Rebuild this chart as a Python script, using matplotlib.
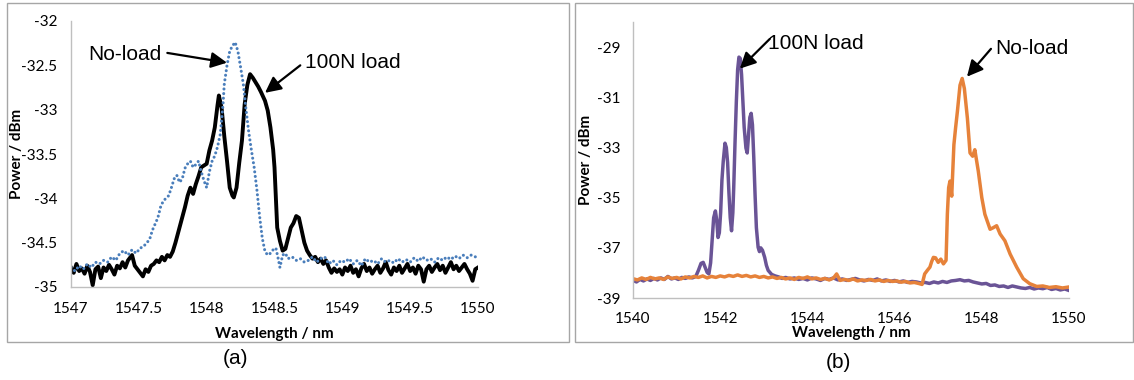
import matplotlib
matplotlib.use('Agg')
import matplotlib.pyplot as plt
from matplotlib.patches import Rectangle

# ---- panel (a): 1547-1550 nm ----
a_load_x = [1547.00, 1547.02, 1547.04, 1547.06, 1547.08, 1547.10, 1547.12, 1547.14, 1547.16, 1547.18,
            1547.20, 1547.22, 1547.24, 1547.26, 1547.28, 1547.30, 1547.32, 1547.34, 1547.36, 1547.38,
            1547.40, 1547.42, 1547.45, 1547.47, 1547.49, 1547.51, 1547.53, 1547.55, 1547.57, 1547.59,
            1547.61, 1547.63, 1547.65, 1547.67, 1547.69, 1547.71, 1547.73, 1547.75, 1547.77, 1547.80,
            1547.82, 1547.84, 1547.86, 1547.88, 1547.90, 1547.92, 1547.94, 1547.96, 1547.98, 1548.00,
            1548.02, 1548.04, 1548.06, 1548.08, 1548.09, 1548.11, 1548.13, 1548.15, 1548.17, 1548.19,
            1548.20, 1548.22, 1548.24, 1548.26, 1548.28, 1548.30, 1548.32, 1548.34, 1548.36, 1548.38,
            1548.40, 1548.43, 1548.45, 1548.47, 1548.49, 1548.50, 1548.51, 1548.52, 1548.54, 1548.56,
            1548.58, 1548.60, 1548.62, 1548.64, 1548.66, 1548.68, 1548.70, 1548.72, 1548.74, 1548.76,
            1548.78, 1548.80, 1548.82, 1548.84, 1548.86, 1548.88, 1548.90, 1548.92, 1548.94, 1548.96,
            1548.98, 1549.00, 1549.02, 1549.04, 1549.06, 1549.08, 1549.10, 1549.12, 1549.14, 1549.16,
            1549.18, 1549.20, 1549.22, 1549.24, 1549.26, 1549.28, 1549.30, 1549.32, 1549.34, 1549.36,
            1549.38, 1549.40, 1549.42, 1549.44, 1549.46, 1549.48, 1549.50, 1549.52, 1549.54, 1549.56,
            1549.58, 1549.60, 1549.62, 1549.64, 1549.66, 1549.68, 1549.70, 1549.72, 1549.74, 1549.76,
            1549.78, 1549.80, 1549.82, 1549.84, 1549.86, 1549.88, 1549.90, 1549.92, 1549.94, 1549.96,
            1549.98, 1550.00]
a_load_y = [-34.78, -34.84, -34.74, -34.82, -34.79, -34.85, -34.76, -34.83, -34.98, -34.80,
            -34.77, -34.90, -34.78, -34.82, -34.75, -34.80, -34.86, -34.76, -34.79, -34.72,
            -34.78, -34.70, -34.64, -34.76, -34.80, -34.84, -34.88, -34.80, -34.83, -34.76,
            -34.74, -34.70, -34.72, -34.66, -34.70, -34.64, -34.66, -34.60, -34.50, -34.33,
            -34.22, -34.10, -33.97, -33.88, -33.95, -33.84, -33.75, -33.65, -33.63, -33.61,
            -33.46, -33.35, -33.20, -32.95, -32.84, -32.98, -33.30, -33.58, -33.88, -33.97,
            -33.99, -33.88, -33.60, -33.35, -32.94, -32.72, -32.60, -32.64, -32.69, -32.74,
            -32.80, -32.90, -33.01, -33.20, -33.45, -33.65, -34.00, -34.33, -34.48, -34.59,
            -34.57, -34.45, -34.33, -34.28, -34.20, -34.22, -34.36, -34.50, -34.59, -34.64,
            -34.68, -34.66, -34.72, -34.68, -34.74, -34.70, -34.78, -34.84, -34.79, -34.83,
            -34.80, -34.86, -34.78, -34.82, -34.76, -34.84, -34.80, -34.88, -34.79, -34.74,
            -34.82, -34.78, -34.85, -34.80, -34.76, -34.84, -34.79, -34.72, -34.81, -34.86,
            -34.78, -34.82, -34.76, -34.84, -34.79, -34.74, -34.82, -34.78, -34.85, -34.76,
            -34.80, -34.94, -34.80, -34.76, -34.83, -34.78, -34.74, -34.81, -34.76, -34.84,
            -34.78, -34.72, -34.80, -34.76, -34.82, -34.78, -34.74, -34.80, -34.85, -34.93,
            -34.80, -34.78]

a_free_x = [1547.00, 1547.03, 1547.06, 1547.09, 1547.12, 1547.15, 1547.18, 1547.21, 1547.24, 1547.27,
            1547.30, 1547.33, 1547.36, 1547.39, 1547.42, 1547.45, 1547.48, 1547.51, 1547.53, 1547.56,
            1547.58, 1547.60, 1547.62, 1547.64, 1547.66, 1547.68, 1547.70, 1547.72, 1547.74, 1547.76,
            1547.78, 1547.80, 1547.82, 1547.84, 1547.86, 1547.88, 1547.90, 1547.92, 1547.94, 1547.96,
            1547.98, 1548.00, 1548.02, 1548.04, 1548.06, 1548.08, 1548.10, 1548.12, 1548.13, 1548.15,
            1548.17, 1548.19, 1548.21, 1548.23, 1548.25, 1548.27, 1548.29, 1548.31, 1548.33, 1548.35,
            1548.37, 1548.39, 1548.41, 1548.43, 1548.45, 1548.47, 1548.49, 1548.51, 1548.53, 1548.54,
            1548.56, 1548.58, 1548.60, 1548.63, 1548.66, 1548.69, 1548.72, 1548.75, 1548.78, 1548.81,
            1548.84, 1548.87, 1548.90, 1548.93, 1548.96, 1548.99, 1549.02, 1549.05, 1549.08, 1549.11,
            1549.14, 1549.17, 1549.20, 1549.23, 1549.26, 1549.29, 1549.32, 1549.35, 1549.38, 1549.41,
            1549.44, 1549.47, 1549.50, 1549.53, 1549.56, 1549.59, 1549.62, 1549.65, 1549.68, 1549.71,
            1549.74, 1549.77, 1549.80, 1549.83, 1549.86, 1549.89, 1549.92, 1549.95, 1549.98, 1550.00]
a_free_y = [-34.78, -34.82, -34.76, -34.80, -34.74, -34.78, -34.72, -34.74, -34.70, -34.72,
            -34.66, -34.70, -34.62, -34.59, -34.64, -34.58, -34.62, -34.56, -34.55, -34.50,
            -34.46, -34.36, -34.29, -34.22, -34.10, -34.03, -34.00, -33.97, -33.88, -33.78,
            -33.74, -33.82, -33.78, -33.66, -33.61, -33.58, -33.65, -33.62, -33.58, -33.70,
            -33.80, -33.88, -33.70, -33.58, -33.52, -33.42, -33.28, -32.95, -32.71, -32.50,
            -32.34, -32.28, -32.24, -32.34, -32.52, -32.71, -33.00, -33.25, -33.46, -33.65,
            -33.90, -34.20, -34.45, -34.60, -34.64, -34.62, -34.58, -34.56, -34.70, -34.78,
            -34.64, -34.62, -34.68, -34.66, -34.70, -34.68, -34.72, -34.70, -34.66, -34.72,
            -34.68, -34.66, -34.74, -34.70, -34.75, -34.70, -34.72, -34.68, -34.74, -34.70,
            -34.76, -34.68, -34.72, -34.70, -34.74, -34.68, -34.72, -34.70, -34.73, -34.68,
            -34.72, -34.69, -34.72, -34.67, -34.71, -34.66, -34.70, -34.68, -34.72, -34.67,
            -34.70, -34.66, -34.69, -34.65, -34.68, -34.64, -34.67, -34.64, -34.66, -34.63]

a_xticks = [1547, 1547.5, 1548, 1548.5, 1549, 1549.5, 1550]
a_xlabels = ['1547', '1547.5', '1548', '1548.5', '1549', '1549.5', '1550']
a_yticks = [-35, -34.5, -34, -33.5, -33, -32.5, -32]
a_ylabels = ['-35', '-34.5', '-34', '-33.5', '-33', '-32.5', '-32']

# ---- panel (b): 1540-1550 nm ----
b_load_x = [1540.00, 1540.08, 1540.16, 1540.24, 1540.32, 1540.40, 1540.48, 1540.56, 1540.64, 1540.72,
            1540.80, 1540.88, 1540.96, 1541.04, 1541.12, 1541.20, 1541.28, 1541.36, 1541.44, 1541.50,
            1541.56, 1541.61, 1541.66, 1541.70, 1541.74, 1541.78, 1541.81, 1541.85, 1541.89, 1541.92,
            1541.95, 1541.98, 1542.01, 1542.04, 1542.07, 1542.11, 1542.14, 1542.17, 1542.20, 1542.23,
            1542.26, 1542.29, 1542.31, 1542.34, 1542.37, 1542.40, 1542.43, 1542.46, 1542.49, 1542.52,
            1542.55, 1542.59, 1542.62, 1542.65, 1542.68, 1542.71, 1542.74, 1542.77, 1542.80, 1542.83,
            1542.87, 1542.90, 1542.93, 1542.97, 1543.02, 1543.06, 1543.10, 1543.18, 1543.26, 1543.34,
            1543.42, 1543.50, 1543.60, 1543.70, 1543.80, 1543.90, 1544.00, 1544.10, 1544.20, 1544.30,
            1544.40, 1544.50, 1544.60, 1544.70, 1544.80, 1544.90, 1545.00, 1545.10, 1545.20, 1545.30,
            1545.40, 1545.50, 1545.60, 1545.70, 1545.80, 1545.90, 1546.00, 1546.10, 1546.20, 1546.30,
            1546.40, 1546.50, 1546.60, 1546.70, 1546.80, 1546.90, 1547.00, 1547.10, 1547.20, 1547.30,
            1547.40, 1547.50, 1547.60, 1547.70, 1547.80, 1547.90, 1548.00, 1548.10, 1548.20, 1548.30,
            1548.40, 1548.50, 1548.60, 1548.70, 1548.80, 1548.90, 1549.00, 1549.10, 1549.20, 1549.30,
            1549.40, 1549.50, 1549.60, 1549.70, 1549.80, 1549.90, 1550.00]
b_load_y = [-38.30, -38.36, -38.26, -38.32, -38.24, -38.30, -38.22, -38.28, -38.20, -38.26,
            -38.14, -38.24, -38.20, -38.26, -38.18, -38.22, -38.16, -38.20, -38.14, -37.90,
            -37.62, -37.58, -37.80, -37.98, -38.04, -37.60, -36.80, -35.80, -35.53, -35.90,
            -36.59, -36.40, -35.60, -34.30, -33.55, -32.83, -33.00, -33.60, -34.80, -35.80,
            -36.32, -35.60, -34.60, -32.80, -31.18, -29.90, -29.40, -29.45, -30.10, -31.18,
            -32.20, -33.02, -33.22, -32.50, -31.80, -31.64, -32.10, -33.40, -34.90, -36.20,
            -36.98, -37.15, -37.00, -37.10, -37.38, -37.70, -37.90, -38.06, -38.12, -38.16,
            -38.22, -38.18, -38.24, -38.20, -38.26, -38.22, -38.28, -38.20, -38.24, -38.30,
            -38.22, -38.26, -38.20, -38.28, -38.24, -38.30, -38.26, -38.22, -38.28, -38.32,
            -38.26, -38.30, -38.24, -38.32, -38.28, -38.34, -38.30, -38.36, -38.32, -38.38,
            -38.34, -38.36, -38.40, -38.38, -38.42, -38.36, -38.40, -38.34, -38.38, -38.32,
            -38.30, -38.27, -38.32, -38.30, -38.36, -38.40, -38.44, -38.42, -38.50, -38.48,
            -38.54, -38.52, -38.58, -38.52, -38.56, -38.60, -38.62, -38.58, -38.64, -38.60,
            -38.63, -38.58, -38.66, -38.62, -38.68, -38.64, -38.70]

b_free_x = [1540.00, 1540.10, 1540.20, 1540.30, 1540.40, 1540.50, 1540.60, 1540.70, 1540.80, 1540.90,
            1541.00, 1541.10, 1541.20, 1541.30, 1541.40, 1541.50, 1541.60, 1541.70, 1541.80, 1541.90,
            1542.00, 1542.10, 1542.20, 1542.30, 1542.40, 1542.50, 1542.60, 1542.70, 1542.80, 1542.90,
            1543.00, 1543.10, 1543.20, 1543.30, 1543.40, 1543.50, 1543.60, 1543.70, 1543.80, 1543.90,
            1544.00, 1544.10, 1544.20, 1544.30, 1544.40, 1544.50, 1544.60, 1544.67, 1544.75, 1544.85,
            1544.95, 1545.05, 1545.15, 1545.25, 1545.35, 1545.45, 1545.55, 1545.65, 1545.75, 1545.85,
            1545.95, 1546.05, 1546.15, 1546.25, 1546.35, 1546.45, 1546.55, 1546.63, 1546.69, 1546.75,
            1546.81, 1546.85, 1546.89, 1546.94, 1547.00, 1547.06, 1547.12, 1547.18, 1547.21, 1547.24,
            1547.27, 1547.31, 1547.36, 1547.40, 1547.44, 1547.50, 1547.55, 1547.60, 1547.67, 1547.73,
            1547.79, 1547.84, 1547.92, 1548.00, 1548.07, 1548.19, 1548.26, 1548.34, 1548.42, 1548.53,
            1548.65, 1548.80, 1548.95, 1549.10, 1549.26, 1549.40, 1549.55, 1549.70, 1549.85, 1550.00]
b_free_y = [-38.23, -38.28, -38.20, -38.26, -38.18, -38.24, -38.20, -38.26, -38.16, -38.22,
            -38.18, -38.24, -38.16, -38.20, -38.14, -38.18, -38.12, -38.20, -38.14, -38.18,
            -38.12, -38.16, -38.10, -38.14, -38.08, -38.14, -38.10, -38.16, -38.12, -38.18,
            -38.14, -38.20, -38.16, -38.22, -38.18, -38.24, -38.20, -38.26, -38.18, -38.22,
            -38.16, -38.24, -38.20, -38.26, -38.22, -38.28, -38.20, -38.04, -38.30, -38.26,
            -38.30, -38.24, -38.32, -38.28, -38.30, -38.26, -38.32, -38.28, -38.34, -38.30,
            -38.34, -38.32, -38.37, -38.34, -38.40, -38.38, -38.42, -38.46, -38.04, -37.90,
            -37.77, -37.55, -37.38, -37.40, -37.58, -37.45, -37.64, -37.50, -35.66, -34.60,
            -34.34, -34.94, -32.89, -32.20, -31.57, -30.52, -30.25, -30.65, -31.84, -33.22,
            -33.35, -33.09, -33.95, -35.00, -35.66, -36.26, -36.20, -36.12, -36.45, -36.72,
            -37.25, -37.77, -38.23, -38.43, -38.54, -38.52, -38.58, -38.55, -38.60, -38.56]

b_xticks = [1540, 1542, 1544, 1546, 1548, 1550]
b_xlabels = ['1540', '1542', '1544', '1546', '1548', '1550']
b_yticks = [-39, -37, -35, -33, -31, -29]
b_ylabels = ['-39', '-37', '-35', '-33', '-31', '-29']

BLUE = '#4a7ebb'
PURPLE = '#6a5496'
ORANGE = '#e6823a'
TICK_FONT = 'Lato'
NOTE_FONT = 'Liberation Sans'

fig = plt.figure(figsize=(11.34, 3.8), dpi=100)

# panel frames
for x0, w in [(7, 562), (575, 558)]:
    fig.patches.append(Rectangle((x0 / 1134, 1 - 342 / 380), w / 1134, 339 / 380,
                                 transform=fig.transFigure, fill=False,
                                 edgecolor='#a6a6a6', linewidth=1.0))

ax1 = fig.add_axes([71 / 1134, 93 / 380, 407 / 1134, 266 / 380])
ax2 = fig.add_axes([633 / 1134, 82 / 380, 436 / 1134, 276 / 380])

ax1.plot(a_load_x, a_load_y, color='black', linewidth=2.8, solid_joinstyle='round')
ax1.plot(a_free_x, a_free_y, color=BLUE, linewidth=2.2, linestyle=(0, (0.01, 1.5)),
         dash_capstyle='round')
ax1.set_xlim(1547, 1550)
ax1.set_ylim(-35, -32)
ax1.set_xticks(a_xticks, a_xlabels)
ax1.set_yticks(a_yticks, a_ylabels)

ax2.plot(b_load_x, b_load_y, color=PURPLE, linewidth=2.5, solid_joinstyle='round')
ax2.plot(b_free_x, b_free_y, color=ORANGE, linewidth=2.5, solid_joinstyle='round')
ax2.set_xlim(1540, 1550)
ax2.set_ylim(-39, -28)
ax2.set_xticks(b_xticks, b_xlabels)
ax2.set_yticks(b_yticks, b_ylabels)

for ax in (ax1, ax2):
    for s in ['top', 'right']:
        ax.spines[s].set_visible(False)
    for s in ['left', 'bottom']:
        ax.spines[s].set_color('#bfbfbf')
        ax.spines[s].set_linewidth(1.0)
    ax.tick_params(length=0, labelsize=11)
    for lab in ax.get_xticklabels() + ax.get_yticklabels():
        lab.set_family(TICK_FONT)
    ax.set_xlabel('Wavelength / nm', family=TICK_FONT, weight='bold', fontsize=11)
    ax.set_ylabel('Power / dBm', family=TICK_FONT, weight='bold', fontsize=11)

ax1.tick_params(axis='x', pad=11)
ax1.tick_params(axis='y', pad=10)
ax2.tick_params(axis='x', pad=10)
ax2.tick_params(axis='y', pad=9)

ax1.xaxis.set_label_coords(0.5, -0.152)
ax1.yaxis.set_label_coords(-0.115, 0.5)
ax2.xaxis.set_label_coords(0.5, -0.102)
ax2.yaxis.set_label_coords(-0.092, 0.5)

arrow = dict(arrowstyle='-|>', color='black', lw=1.6, mutation_scale=24, shrinkA=0, shrinkB=0)

ax1.text(1547.40, -32.38, 'No-load', family=NOTE_FONT, fontsize=15, ha='center', va='center')
ax1.annotate('', xy=(1548.15, -32.47), xytext=(1547.71, -32.36), arrowprops=arrow)
ax1.text(1549.08, -32.47, '100N load', family=NOTE_FONT, fontsize=15, ha='center', va='center')
ax1.annotate('', xy=(1548.43, -32.81), xytext=(1548.69, -32.50), arrowprops=arrow)

ax2.text(1544.20, -28.87, '100N load', family=NOTE_FONT, fontsize=15, ha='center', va='center')
ax2.annotate('', xy=(1542.45, -29.86), xytext=(1543.14, -28.67), arrowprops=arrow)
ax2.text(1549.15, -29.07, 'No-load', family=NOTE_FONT, fontsize=15, ha='center', va='center')
ax2.annotate('', xy=(1547.66, -30.18), xytext=(1548.21, -29.07), arrowprops=arrow)

fig.text(236 / 1134, 1 - 359 / 380, '(a)', family=NOTE_FONT, fontsize=15, ha='center', va='center')
fig.text(838 / 1134, 1 - 362 / 380, '(b)', family=NOTE_FONT, fontsize=15, ha='center', va='center')

fig.savefig('out.png', dpi=100)
